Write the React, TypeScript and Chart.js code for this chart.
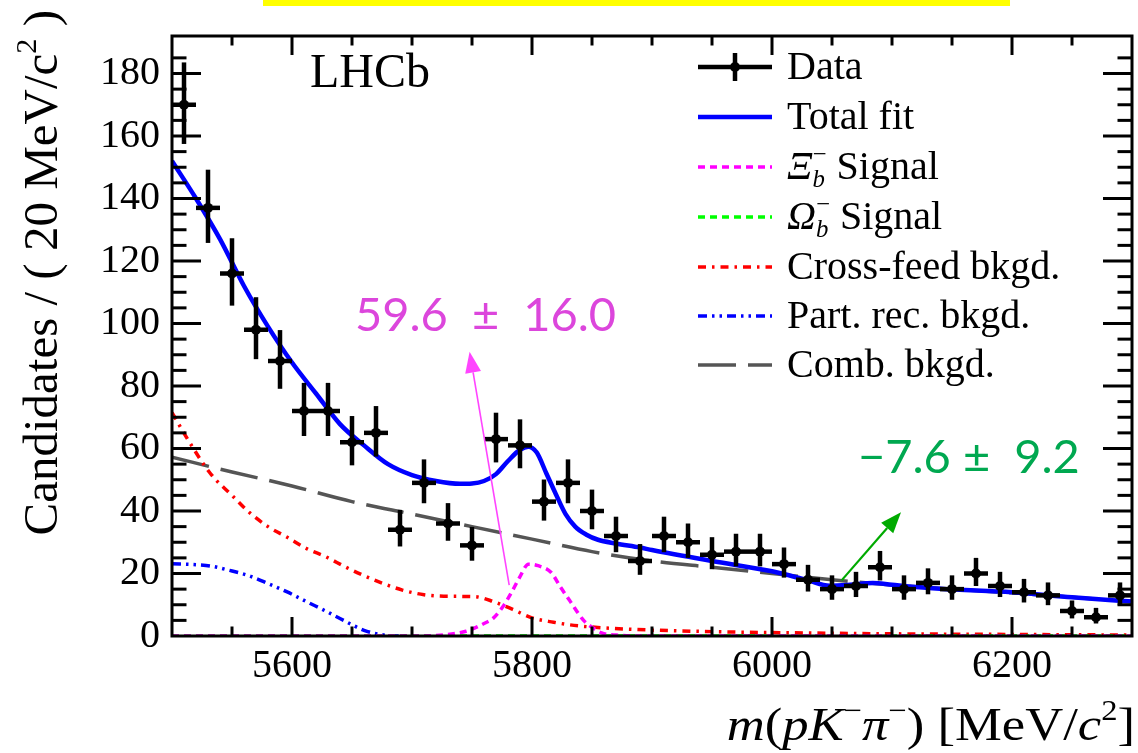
import React, { useEffect, useRef } from 'react';
import { Chart, registerables } from 'chart.js';

Chart.register(...registerables);

// ---------------- data ----------------
const X_MIN = 5500;
const X_MAX = 6300;
const Y_MIN = 0;
const Y_MAX = 192;
const BIN_WIDTH = 20;

const dataX = [
  5510, 5530, 5550, 5570, 5590, 5610, 5630, 5650, 5670, 5690,
  5710, 5730, 5750, 5770, 5790, 5810, 5830, 5850, 5870, 5890,
  5910, 5930, 5950, 5970, 5990, 6010, 6030, 6050, 6070, 6090,
  6110, 6130, 6150, 6170, 6190, 6210, 6230, 6250, 6270, 6290,
];
const dataY = [
  170, 137, 116, 98, 88, 72, 72, 62, 65, 34,
  49, 36, 29, 63, 61, 43, 49, 40, 32, 24,
  32, 30, 26, 27, 27, 23, 18, 15, 16, 22,
  15, 17, 15, 20, 16, 14, 13, 8, 6, 13,
];

const fitX = [
  5500, 5520, 5540, 5560, 5580, 5600, 5620, 5640, 5660, 5680,
  5700, 5720, 5740, 5750, 5760, 5770, 5780, 5790, 5797, 5804,
  5812, 5820, 5828, 5836, 5845, 5855, 5870, 5890, 5900, 5950,
  6000, 6030, 6048, 6065, 6084, 6100, 6140, 6200, 6250, 6300,
];
const fitY = [
  152, 140, 127, 112, 99, 87.5, 77.6, 67.8, 61, 55,
  51.5, 49.6, 48.7, 48.8, 49.6, 51.8, 56, 59.6, 60.6, 58.7,
  52, 45.3, 39, 35, 32.5, 30.8, 29.6, 28.3, 27.5, 24,
  20.7, 17.8, 16.1, 16.4, 17, 16.4, 15.1, 14, 12.4, 11,
];

const xiX = [
  5500, 5700, 5730, 5745, 5752, 5760, 5768, 5776, 5783, 5790,
  5797, 5805, 5816, 5824, 5832, 5843, 5850, 5858, 5870, 5900, 6300,
];
const xiY = [
  0, 0, 0.5, 1.5, 2.5, 4, 5.8, 9.5, 14, 19,
  23, 22.5, 20.3, 15.5, 11, 5, 2.8, 1, 0.3, 0, 0,
];

const omegaX = [5500, 5990, 6020, 6046, 6070, 6100, 6300];
const omegaY = [0, 0, -1.5, -3.5, -1.5, 0, 0];

const crossX = [
  5500, 5513, 5532, 5550, 5564, 5580, 5596, 5612, 5628, 5645,
  5660, 5676, 5692, 5710, 5730, 5752, 5768, 5784, 5800, 5818,
  5835, 5860, 5900, 5950, 6000, 6100, 6200, 6300,
];
const crossY = [
  71.5, 63, 52, 45, 39.7, 35, 31.6, 28, 25.4, 22,
  19.3, 16.8, 14.7, 13.2, 12.7, 12.6, 11, 8.5, 5.8, 4.4,
  3.4, 2.6, 1.9, 1.4, 1.1, 0.7, 0.5, 0.3,
];

const partX = [5500, 5520, 5532, 5548, 5564, 5580, 5596, 5612, 5628, 5644, 5660, 5672, 5685, 5700];
const partY = [23.1, 22.8, 22.4, 21, 19.3, 16.8, 14.1, 11, 8, 4.8, 1.8, 0.6, 0, 0];

const combX = [
  5500, 5550, 5600, 5650, 5700, 5750, 5800, 5850, 5900, 5950,
  6000, 6050, 6100, 6150, 6200, 6250, 6300,
];
const combY = [
  57.2, 52.5, 48, 43, 39, 35, 31, 27, 24, 22,
  20, 18, 16.3, 15, 13.8, 12.4, 11,
];

const legendLabels = ['Data', 'Total fit', 'Ξ Signal', 'Ω Signal', 'Cross-feed bkgd.', 'Part. rec. bkgd.', 'Comb. bkgd.'];
const xiYield = '59.6  ±  16.0';
const omegaYield = '−7.6 ±  9.2';
// arrow endpoints in data coordinates: [x0, y0, x1, y1]
const xiArrow = [5781, 16.3, 5748, 91];
const omegaArrow = [6058, 17.8, 6107.5, 39.6];

// ---------------- styles ----------------
const SERIF = '"Liberation Serif", "Times New Roman", serif';
const SANS = 'Lato, "Open Sans", sans-serif';

const C_FIT = '#0000ff';
const C_XI = '#ff00ff';
const C_OMEGA = '#00ff00';
const C_CROSS = '#ff0000';
const C_PART = '#0000ff';
const C_COMB = '#555555';

const D_XI = [7, 5];
const D_OMEGA = [7, 5];
const D_CROSS = [8, 6, 2.5, 6];
const D_PART = [9, 5, 2.5, 5, 2.5, 5];
const D_COMB = [38, 12];

type Seg = { t: string; it?: boolean; sup?: string; sub?: string; subIt?: boolean };

function sf(size: number, it?: boolean) {
  return `${it ? 'italic ' : ''}${size}px ${SERIF}`;
}

function richWidth(ctx: CanvasRenderingContext2D, segs: Seg[], size: number) {
  let w = 0;
  for (const s of segs) {
    ctx.font = sf(size, s.it);
    w += ctx.measureText(s.t).width;
    let a = 0;
    if (s.sup) {
      ctx.font = sf(size * 0.62, false);
      a = Math.max(a, ctx.measureText(s.sup).width);
    }
    if (s.sub) {
      ctx.font = sf(size * 0.62, s.subIt);
      a = Math.max(a, ctx.measureText(s.sub).width);
    }
    w += a;
  }
  return w;
}

function drawRich(ctx: CanvasRenderingContext2D, segs: Seg[], x: number, y: number, size: number) {
  let cx = x;
  ctx.textAlign = 'left';
  ctx.textBaseline = 'alphabetic';
  for (const s of segs) {
    ctx.font = sf(size, s.it);
    ctx.fillText(s.t, cx, y);
    cx += ctx.measureText(s.t).width;
    let a = 0;
    if (s.sup) {
      ctx.font = sf(size * 0.62, false);
      ctx.fillText(s.sup, cx, y - size * 0.42);
      a = Math.max(a, ctx.measureText(s.sup).width);
    }
    if (s.sub) {
      ctx.font = sf(size * 0.62, s.subIt);
      ctx.fillText(s.sub, cx, y + size * 0.2);
      a = Math.max(a, ctx.measureText(s.sub).width);
    }
    cx += a;
  }
}

function seg(ctx: CanvasRenderingContext2D, x0: number, y0: number, x1: number, y1: number) {
  ctx.beginPath();
  ctx.moveTo(x0, y0);
  ctx.lineTo(x1, y1);
  ctx.stroke();
}

function arrow(ctx: CanvasRenderingContext2D, x0: number, y0: number, x1: number, y1: number, color: string, lw: number) {
  const ang = Math.atan2(y1 - y0, x1 - x0);
  const hl = 21;
  const hw = 8;
  const bx = x1 - hl * Math.cos(ang);
  const by = y1 - hl * Math.sin(ang);
  ctx.save();
  ctx.strokeStyle = color;
  ctx.fillStyle = color;
  ctx.lineWidth = lw;
  seg(ctx, x0, y0, bx, by);
  ctx.beginPath();
  ctx.moveTo(x1, y1);
  ctx.lineTo(bx + hw * Math.sin(ang), by - hw * Math.cos(ang));
  ctx.lineTo(bx - hw * Math.sin(ang), by + hw * Math.cos(ang));
  ctx.closePath();
  ctx.fill();
  ctx.restore();
}

const lhcbPlugin = {
  id: 'lhcbStyle',
  beforeDraw(chart: any) {
    const ctx = chart.ctx as CanvasRenderingContext2D;
    ctx.save();
    ctx.fillStyle = '#ffffff';
    ctx.fillRect(0, 0, chart.width, chart.height);
    ctx.fillStyle = '#ffff00';
    ctx.fillRect(263, 0, 747, 6);
    ctx.restore();
  },
  afterDatasetsDraw(chart: any) {
    const ctx = chart.ctx as CanvasRenderingContext2D;
    const xs = chart.scales.x;
    const ys = chart.scales.y;
    const ca = chart.chartArea;
    ctx.save();
    ctx.beginPath();
    ctx.rect(ca.left, ca.top, ca.right - ca.left, ca.bottom - ca.top);
    ctx.clip();
    ctx.strokeStyle = '#000';
    ctx.lineWidth = 4.5;
    dataX.forEach((x, i) => {
      const n = dataY[i];
      const s = Math.sqrt(n + 0.25);
      const px = xs.getPixelForValue(x);
      const py = ys.getPixelForValue(n);
      seg(ctx, xs.getPixelForValue(x - BIN_WIDTH / 2), py, xs.getPixelForValue(x + BIN_WIDTH / 2), py);
      seg(ctx, px, ys.getPixelForValue(n + s + 0.5), px, ys.getPixelForValue(n - s + 0.5));
    });
    ctx.restore();
  },
  afterDraw(chart: any) {
    const ctx = chart.ctx as CanvasRenderingContext2D;
    const xs = chart.scales.x;
    const ys = chart.scales.y;
    const { left, right, top, bottom } = chart.chartArea;
    ctx.save();
    // ticks
    ctx.strokeStyle = '#000';
    ctx.lineWidth = 3;
    xs.ticks.forEach((t: any) => {
      const v = Math.round(t.value);
      if (v <= X_MIN || v >= X_MAX) return;
      const L = v % 200 === 0 ? 19 : 9.5;
      const p = xs.getPixelForValue(v);
      seg(ctx, p, bottom, p, bottom - L);
      seg(ctx, p, top, p, top + L);
    });
    ys.ticks.forEach((t: any) => {
      const v = Math.round(t.value);
      if (v <= Y_MIN || v >= Y_MAX) return;
      const L = v % 20 === 0 ? 29 : 14.5;
      const p = ys.getPixelForValue(v);
      seg(ctx, left, p, left + L, p);
      seg(ctx, right, p, right - L, p);
    });
    ctx.strokeRect(left, top, right - left, bottom - top);

    // axis titles
    ctx.fillStyle = '#000';
    const xt: Seg[] = [
      { t: 'm', it: true }, { t: '(' }, { t: 'pK', it: true, sup: '−' }, { t: 'π', it: true, sup: '−' },
      { t: ') [MeV/' }, { t: 'c', it: true, sup: '2' }, { t: ']' },
    ];
    const xSize = 47;
    const xStretch = 1.12;
    const xw = richWidth(ctx, xt, xSize) * xStretch;
    ctx.save();
    ctx.translate(1135 - xw, 740);
    ctx.scale(xStretch, 1);
    drawRich(ctx, xt, 0, 0, xSize);
    ctx.restore();

    const yt: Seg[] = [{ t: 'Candidates / ( 20 MeV/c', sup: '2' }, { t: ' )' }];
    const yw = richWidth(ctx, yt, 49);
    ctx.save();
    ctx.translate(57, 10);
    ctx.rotate(-Math.PI / 2);
    drawRich(ctx, yt, -yw, 0, 49);
    ctx.restore();

    // LHCb
    ctx.font = sf(48);
    ctx.textAlign = 'left';
    ctx.textBaseline = 'alphabetic';
    ctx.fillText('LHCb', 310, 87);

    // legend
    const rows = [67, 117, 167, 217, 267, 316, 365];
    const lx0 = 698;
    const lx1 = 772;
    const tx = 787;
    const fs = 40;
    // Data
    ctx.lineWidth = 4.5;
    ctx.strokeStyle = '#000';
    seg(ctx, lx0, rows[0], lx1, rows[0]);
    seg(ctx, 735, rows[0] - 14, 735, rows[0] + 14);
    ctx.beginPath();
    ctx.arc(735, rows[0], 5, 0, Math.PI * 2);
    ctx.fillStyle = '#000';
    ctx.fill();
    const lines: [string, number, number[]][] = [
      [C_FIT, 4.5, []],
      [C_XI, 3.5, D_XI],
      [C_OMEGA, 3.5, D_OMEGA],
      [C_CROSS, 3.5, D_CROSS],
      [C_PART, 3.5, D_PART],
      [C_COMB, 3.5, D_COMB],
    ];
    lines.forEach(([c, w, d], i) => {
      ctx.save();
      ctx.strokeStyle = c;
      ctx.lineWidth = w;
      ctx.setLineDash(d);
      seg(ctx, lx0, rows[i + 1], lx1, rows[i + 1]);
      ctx.restore();
    });
    ctx.fillStyle = '#000';
    const lt: Seg[][] = [
      [{ t: legendLabels[0] }],
      [{ t: legendLabels[1] }],
      [{ t: 'Ξ', it: true, sub: 'b', subIt: true, sup: '−' }, { t: legendLabels[2].slice(1) }],
      [{ t: 'Ω', it: true, sub: 'b', subIt: true, sup: '−' }, { t: legendLabels[3].slice(1) }],
      [{ t: legendLabels[4] }],
      [{ t: legendLabels[5] }],
      [{ t: legendLabels[6] }],
    ];
    lt.forEach((s, i) => drawRich(ctx, s, tx, rows[i] + 12, fs));

    // yields and arrows
    ctx.font = `47px ${SANS}`;
    ctx.textAlign = 'left';
    ctx.textBaseline = 'alphabetic';
    ctx.fillStyle = '#dc46dc';
    ctx.fillText(xiYield, 355, 331);
    ctx.fillStyle = '#00a850';
    ctx.fillText(omegaYield, 858, 473);
    arrow(ctx, xs.getPixelForValue(xiArrow[0]), ys.getPixelForValue(xiArrow[1]),
      xs.getPixelForValue(xiArrow[2]), ys.getPixelForValue(xiArrow[3]), '#ff44ff', 1.6);
    arrow(ctx, xs.getPixelForValue(omegaArrow[0]), ys.getPixelForValue(omegaArrow[1]),
      xs.getPixelForValue(omegaArrow[2]), ys.getPixelForValue(omegaArrow[3]), '#00aa00', 2.2);
    ctx.restore();
  },
};

function pts(xs: number[], ys: number[]) {
  return xs.map((x, i) => ({ x, y: ys[i] }));
}

export default function App() {
  const ref = useRef<HTMLCanvasElement | null>(null);
  useEffect(() => {
    if (!ref.current) return;
    const lineDs = (label: string, d: { x: number; y: number }[], color: string, width: number, dash: number[]) => ({
      type: 'line' as const,
      label,
      data: d,
      borderColor: color,
      borderWidth: width,
      borderDash: dash,
      pointRadius: 0,
      fill: false,
      cubicInterpolationMode: 'monotone' as const,
    });
    const chart = new Chart(ref.current, {
      type: 'scatter',
      data: {
        datasets: [
          {
            type: 'scatter',
            label: legendLabels[0],
            data: pts(dataX, dataY),
            pointRadius: 5,
            pointBackgroundColor: '#000',
            pointBorderWidth: 0,
            showLine: false,
          } as any,
          lineDs(legendLabels[1], pts(fitX, fitY), C_FIT, 4.5, []),
          lineDs(legendLabels[2], pts(xiX, xiY), C_XI, 3.5, D_XI),
          lineDs(legendLabels[3], pts(omegaX, omegaY), C_OMEGA, 3.5, D_OMEGA),
          lineDs(legendLabels[4], pts(crossX, crossY), C_CROSS, 3.5, D_CROSS),
          lineDs(legendLabels[5], pts(partX, partY), C_PART, 3.5, D_PART),
          lineDs(legendLabels[6], pts(combX, combY), C_COMB, 3.5, D_COMB),
        ],
      },
      options: {
        responsive: false,
        animation: false,
        layout: { padding: { top: 10, right: 5, left: 0, bottom: 0 } },
        plugins: { legend: { display: false }, tooltip: { enabled: false } },
        scales: {
          x: {
            type: 'linear',
            min: X_MIN,
            max: X_MAX,
            grid: { display: false, drawTicks: false },
            border: { display: false },
            ticks: {
              stepSize: 50,
              autoSkip: false,
              maxRotation: 0,
              padding: 6,
              color: '#000',
              font: { family: SERIF, size: 40 },
              callback: (v: any) => (Math.round(Number(v)) % 200 === 0 ? String(Math.round(Number(v))) : ''),
            },
            afterFit: (s: any) => { s.height = 117; },
          },
          y: {
            type: 'linear',
            min: Y_MIN,
            max: Y_MAX,
            grid: { display: false, drawTicks: false },
            border: { display: false },
            ticks: {
              stepSize: 5,
              autoSkip: false,
              padding: 12,
              color: '#000',
              font: { family: SERIF, size: 40 },
              callback: (v: any) => (Math.round(Number(v)) % 20 === 0 && Number(v) < Y_MAX ? String(Math.round(Number(v))) : ''),
            },
            afterFit: (s: any) => { s.width = 172; },
          },
        },
      },
      plugins: [lhcbPlugin],
    });
    return () => chart.destroy();
  }, []);
  return (
    <div style={{ position: 'fixed', left: 0, top: 0, width: 1138, height: 753, background: '#fff' }}>
      <canvas ref={ref} width={1138} height={753} style={{ width: 1138, height: 753, display: 'block' }} />
    </div>
  );
}
